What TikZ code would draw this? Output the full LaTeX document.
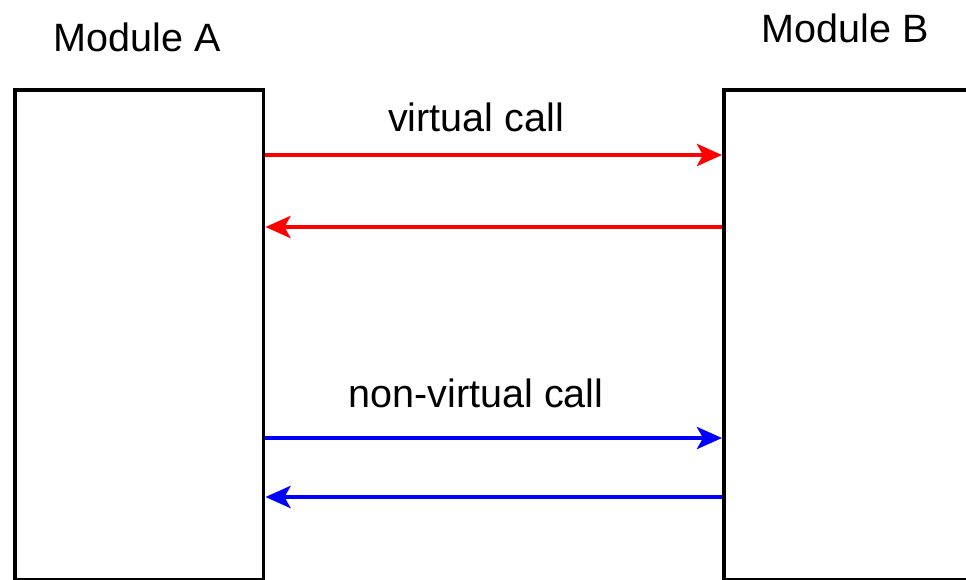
\documentclass[tikz,border=0pt]{standalone}
\usepackage{fontspec}
\setmainfont{Liberation Sans}
\usetikzlibrary{arrows.meta}

\begin{document}
\begin{tikzpicture}[
  x=0.02cm, y=-0.02cm,
  font=\fontsize{22.5}{27}\selectfont,
  >={Stealth[length=0.5cm, width=0.44cm, inset=0.12cm]},
  module/.style={draw, line width=2pt, anchor=north west, inner sep=0pt,
                 minimum height=9.8cm},
  title/.style={anchor=base, inner sep=0pt},
  vcall/.style={->, line width=2.6pt, color=red},
  nvcall/.style={->, line width=2.6pt, color=blue},
]
\path[use as bounding box, clip] (0,0) rectangle (966,579);

\node[module, minimum width=4.98cm] (modA) at (13,88) {};
\node[module, minimum width=6cm] (modB) at (722,88) {};

\node[title] (labA) at (137,51) {Module A};
\node[title] (labB) at (845,42) {Module B};

\coordinate (r1) at (0,155);
\coordinate (r2) at (0,227);
\coordinate (b1) at (0,438);
\coordinate (b2) at (0,497);

\node[title] (vlab) at (476,131) {virtual call};
\node[title] (nvlab) at (476,407) {non-virtual call};

\draw[vcall] (modA.east |- r1) -- (modB.west |- r1);
\draw[vcall] (modB.west |- r2) -- (modA.east |- r2);
\draw[nvcall] (modA.east |- b1) -- (modB.west |- b1);
\draw[nvcall] (modB.west |- b2) -- (modA.east |- b2);
\end{tikzpicture}
\end{document}
